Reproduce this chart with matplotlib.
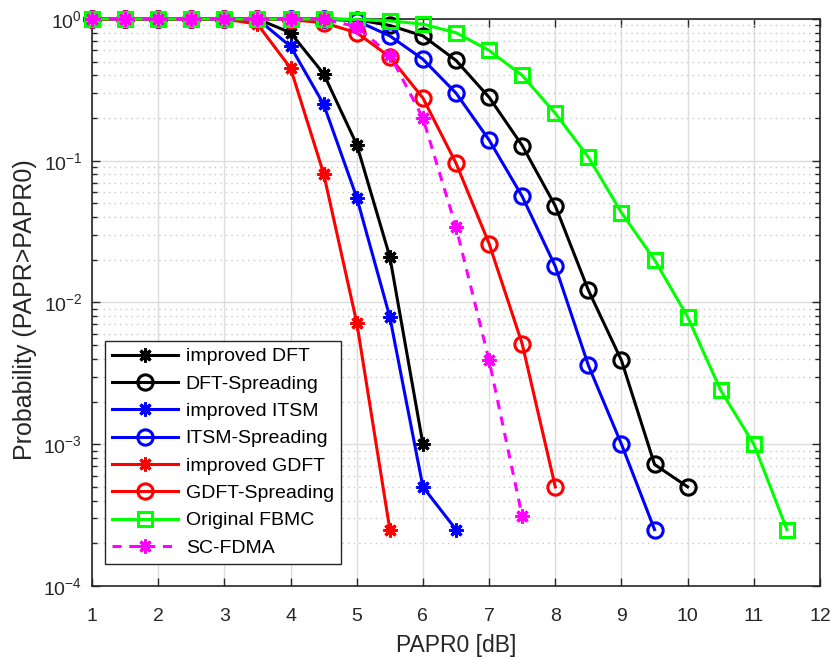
import numpy as np
import matplotlib
matplotlib.use("Agg")
import matplotlib.pyplot as plt
from matplotlib.ticker import LogLocator, NullFormatter, FixedLocator

plt.rcParams['font.family'] = ['Liberation Sans', 'DejaVu Sans']
plt.rcParams['mathtext.fontset'] = 'custom'
plt.rcParams['mathtext.rm'] = 'Liberation Sans'

x_idft = [1, 1.5, 2, 2.5, 3, 3.5, 4, 4.5, 5, 5.5, 6]
y_idft = [1, 1, 1, 1, 1, 1, 0.80, 0.41, 0.13, 0.021, 0.001]

x_dft = [1, 1.5, 2, 2.5, 3, 3.5, 4, 4.5, 5, 5.5, 6, 6.5, 7, 7.5, 8, 8.5, 9, 9.5, 10]
y_dft = [1, 1, 1, 1, 1, 1, 1, 1, 0.99, 0.9, 0.76, 0.51, 0.28, 0.128, 0.048, 0.0122, 0.0039, 0.00072, 0.0005]

x_iitsm = [1, 1.5, 2, 2.5, 3, 3.5, 4, 4.5, 5, 5.5, 6, 6.5]
y_iitsm = [1, 1, 1, 1, 1, 1, 0.64, 0.25, 0.055, 0.0079, 0.0005, 0.00025]

x_itsm = [1, 1.5, 2, 2.5, 3, 3.5, 4, 4.5, 5, 5.5, 6, 6.5, 7, 7.5, 8, 8.5, 9, 9.5]
y_itsm = [1, 1, 1, 1, 1, 1, 1, 1, 0.97, 0.76, 0.52, 0.30, 0.14, 0.056, 0.018, 0.0036, 0.001, 0.00025]

x_igdft = [1, 1.5, 2, 2.5, 3, 3.5, 4, 4.5, 5, 5.5]
y_igdft = [1, 1, 1, 1, 1, 0.92, 0.45, 0.081, 0.0072, 0.00025]

x_gdft = [1, 1.5, 2, 2.5, 3, 3.5, 4, 4.5, 5, 5.5, 6, 6.5, 7, 7.5, 8]
y_gdft = [1, 1, 1, 1, 1, 1, 0.99, 0.94, 0.80, 0.54, 0.277, 0.096, 0.026, 0.0051, 0.0005]

x_fbmc = [1, 1.5, 2, 2.5, 3, 3.5, 4, 4.5, 5, 5.5, 6, 6.5, 7, 7.5, 8, 8.5, 9, 9.5, 10, 10.5, 11, 11.5]
y_fbmc = [1, 1, 1, 1, 1, 1, 1, 1, 0.99, 0.97, 0.92, 0.80, 0.60, 0.40, 0.216, 0.106, 0.043, 0.020, 0.0079, 0.0024, 0.001, 0.00025]

x_scfdma = [1, 1.5, 2, 2.5, 3, 3.5, 4, 4.5, 5, 5.5, 6, 6.5, 7, 7.5]
y_scfdma = [1, 1, 1, 1, 1, 1, 1, 1, 0.88, 0.56, 0.20, 0.034, 0.0039, 0.00031]

x_ticks = list(range(1, 13))

fig = plt.figure(figsize=(8.32, 6.59), dpi=100)
ax = fig.add_axes([0.1106, 0.1108, 0.875, 0.8604])

ast = (8, 2, 0)
common = dict(lw=2.2, clip_on=False, zorder=3)
ax.plot(x_idft, y_idft, color='k', marker=ast, ms=10, mew=2.2, label='improved DFT', **common)
ax.plot(x_dft, y_dft, color='k', marker='o', ms=11, mew=2.2, mfc='none', label='DFT-Spreading', **common)
ax.plot(x_iitsm, y_iitsm, color='#0000ff', marker=ast, ms=10, mew=2.2, label='improved ITSM', **common)
ax.plot(x_itsm, y_itsm, color='#0000ff', marker='o', ms=11, mew=2.2, mfc='none', label='ITSM-Spreading', **common)
ax.plot(x_igdft, y_igdft, color='#ff0000', marker=ast, ms=10, mew=2.2, label='improved GDFT', **common)
ax.plot(x_gdft, y_gdft, color='#ff0000', marker='o', ms=11, mew=2.2, mfc='none', label='GDFT-Spreading', **common)
ax.plot(x_fbmc, y_fbmc, color='#00ff00', marker='s', ms=10, mew=2.2, mfc='none', label='Original FBMC', **common)
ax.plot(x_scfdma, y_scfdma, color='#ff00ff', marker=ast, ms=10, mew=2.2, ls=(0, (3, 2.5)), label='SC-FDMA', **common)

ax.set_yscale('log')
ax.set_xlim(1, 12)
ax.set_ylim(1e-4, 1)
ax.xaxis.set_major_locator(FixedLocator(x_ticks))
ax.yaxis.set_major_locator(LogLocator(base=10, numticks=10))
ax.yaxis.set_minor_locator(LogLocator(base=10, subs=np.arange(2, 10), numticks=20))
ax.yaxis.set_minor_formatter(NullFormatter())

ax.grid(True, which='major', color='#dcdcdc', lw=1.0, ls='-', zorder=0)
ax.grid(True, which='minor', axis='y', color='#c8c8c8', lw=1.0, ls=(0, (1, 3)), zorder=0)
ax.set_axisbelow(True)

ax.tick_params(which='both', direction='in', top=True, right=True, colors='#262626', labelsize=14)
ax.tick_params(which='major', length=6, width=1)
ax.tick_params(which='minor', length=3.5, width=1)
ax.tick_params(axis='x', which='major', pad=16)
ax.tick_params(axis='y', which='major', pad=7)
for s in ax.spines.values():
    s.set_color('#262626')
    s.set_linewidth(1.2)

ax.set_xlabel('PAPR0 [dB]', fontsize=16.5, color='#262626', labelpad=6)
ax.set_ylabel('Probability (PAPR>PAPR0)', fontsize=18, color='#262626')
ax.yaxis.set_label_coords(-0.075, 0.487)

leg = ax.legend(loc='upper left', bbox_to_anchor=(13 / 728, 1 - 322 / 567), fontsize=14, frameon=True,
                fancybox=False, edgecolor='#262626', framealpha=1, borderpad=0.35,
                handlelength=3.4, labelspacing=0.5, handletextpad=0.4, borderaxespad=0)
leg.get_frame().set_linewidth(1.0)

fig.savefig('out.png', dpi=100)
